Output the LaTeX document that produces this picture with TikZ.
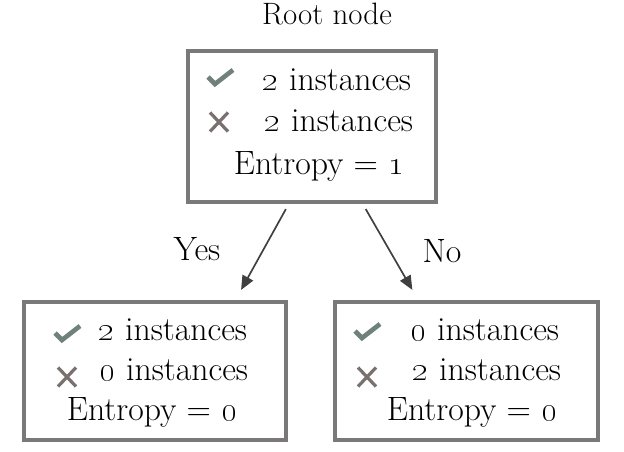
\documentclass[tikz,border=0pt]{standalone}
\usetikzlibrary{calc}
\usetikzlibrary{arrows.meta}

\definecolor{boxgray}{HTML}{7A7878}
\definecolor{okgreen}{HTML}{6E817C}
\definecolor{nored}{HTML}{7A7070}
\definecolor{edgegray}{HTML}{404040}

\tikzset{
  leaf/.style={draw=boxgray,line width=2.9pt,inner sep=0pt},
  txt/.style={anchor=base,inner sep=0pt,font=\fontsize{24}{28}\selectfont},
  okline/.style={draw=okgreen,line width=3.3pt},
  noline/.style={draw=nored,line width=2.3pt},
  edge/.style={draw=edgegray,line width=1.2pt,-{Triangle[length=10pt,width=8.5pt]}}
}
\newcommand{\okmark}[2]{\draw[okline] (#1,#2) ++(-12,0) -- ++(7,7) -- ++(18,-14);}
\newcommand{\nomark}[2]{\draw[noline] (#1,#2) ++(-9,-9.5) -- ++(18,19) ++(0,-19) -- ++(-18,19);}

\begin{document}
\begin{tikzpicture}[x=0.025cm,y=-0.025cm]
\useasboundingbox (0,0) rectangle (624,452);

% boxes
\node[leaf,minimum width=6.2cm,minimum height=3.775cm] (root) at (312,126.5) {};
\node[leaf,minimum width=6.55cm,minimum height=3.45cm] (yes) at (155,371) {};
\node[leaf,minimum width=6.575cm,minimum height=3.45cm] (no) at (466.5,371) {};

\node[txt,font=\fontsize{22}{26}\selectfont] (title) at (327,25) {Root node};

% root box
\okmark{220}{77}
\nomark{219}{122}
\node[txt] (r1) at (337,91) {\oldstylenums{2} instances};
\node[txt] (r2) at (339,132) {\oldstylenums{2} instances};
\node[txt] (r3) at (319,175) {Entropy = \oldstylenums{1}};

% yes box
\okmark{67}{333}
\nomark{67}{377}
\node[txt] (y1) at (173,340) {\oldstylenums{2} instances};
\node[txt] (y2) at (174,380) {\oldstylenums{0} instances};
\node[txt] (y3) at (152,420) {Entropy = \oldstylenums{0}};

% no box
\okmark{367}{331}
\nomark{367}{377}
\node[txt] (n1) at (485,340) {\oldstylenums{0} instances};
\node[txt] (n2) at (487,380) {\oldstylenums{2} instances};
\node[txt] (n3) at (472,420) {Entropy = \oldstylenums{0}};

% arrows
\draw[edge,shorten <=5.8*0.025cm,shorten >=11.5*0.025cm]
  ($(root.south)!0.185!(root.south west)$) -- ($(yes.north)!0.605!(yes.north east)$);
\draw[edge,shorten <=5.8*0.025cm,shorten >=11.6*0.025cm]
  ($(root.south)!0.403!(root.south east)$) -- ($(no.north)!0.362!(no.north west)$);

\node[txt] (ylab) at (197,261) {Yes};
\node[txt] (nlab) at (442,263) {No};

\end{tikzpicture}
\end{document}
